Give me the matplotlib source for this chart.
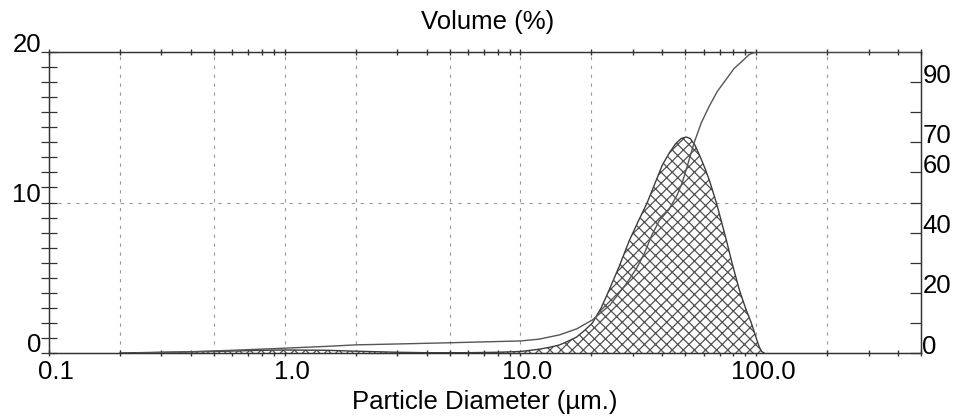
import matplotlib
matplotlib.use("Agg")
import matplotlib.pyplot as plt
from matplotlib.ticker import FixedLocator, LogLocator, NullFormatter
from matplotlib.transforms import ScaledTranslation

# volume distribution (differential)
size_um = [0.2, 0.3, 0.5, 0.8, 1.0, 1.5, 2.0, 3.0, 4.0, 6.0, 8.0, 10.0, 12.0,
           13.3, 14.6, 16.0, 17.3, 18.7, 20.2, 22.0, 23.8, 26.3, 29.0, 31.7,
           34.5, 37.7, 40.0, 42.8, 45.5, 48.0, 50.5, 52.5, 55.0, 58.0, 60.5,
           63.2, 67.7, 71.0, 74.7, 79.5, 84.8, 90.0, 95.3, 99.0, 103.0, 105.5, 108.0]
volume_pct = [0.0, 0.05, 0.1, 0.18, 0.2, 0.18, 0.12, 0.05, 0.02, 0.02, 0.05, 0.1, 0.25,
              0.38, 0.53, 0.8, 1.06, 1.5, 2.0, 3.0, 4.2, 5.8, 7.5, 8.8,
              10.0, 11.5, 12.5, 13.3, 13.9, 14.25, 14.35, 14.25, 13.8, 13.0, 12.3,
              11.5, 10.0, 8.8, 7.5, 5.8, 4.2, 3.0, 2.0, 1.2, 0.4, 0.1, 0.0]

# cumulative (undersize) curve, right axis
cum_size = [0.236, 0.36, 0.6, 1.0, 1.5, 2.0, 3.0, 5.0, 10.0, 12.0, 14.6, 17.3, 20.2,
            24.0, 28.1, 31.0, 33.5, 36.0, 38.8, 42.5, 46.2, 48.5, 50.5, 52.5, 54.6,
            58.5, 63.2, 68.5, 74.7, 80.5, 87.3, 93.5, 100.0, 500.0]
cum_pct = [0.0, 0.3, 0.9, 1.6, 2.2, 2.7, 3.0, 3.4, 4.0, 4.6, 6.0, 8.0, 11.0,
           16.0, 23.0, 28.0, 33.0, 39.0, 44.0, 47.5, 52.5, 56.5, 61.0, 65.5, 70.0,
           76.5, 82.0, 87.0, 91.0, 94.5, 97.0, 99.2, 100.0, 100.0]

grid_x = [0.2, 0.5, 1, 2, 5, 10, 20, 50, 100, 200]
x_major = [0.1, 1, 10, 100]
x_labels = ["0.1", "1.0", "10.0", "100.0"]
left_ticks = [0, 10, 20]
right_ticks = [0, 10, 20, 30, 40, 50, 60, 70, 80, 90]
right_labels = ["0", "", "20", "", "40", "", "60", "70", "", "90"]

plt.rcParams['font.family'] = ['Liberation Sans', 'DejaVu Sans']
plt.rcParams['hatch.color'] = '#505050'
plt.rcParams['hatch.linewidth'] = 0.9

fig = plt.figure(figsize=(9.57, 4.17), dpi=100)
ax = fig.add_axes([49/957, 64/417, 872/957, 301/417])
frame = '#333333'
fs = 18.5

ax.set_xscale('log')
ax.set_xlim(0.1, 500)
ax.set_ylim(0, 20)

for gx in grid_x:
    ax.axvline(gx, color='#9a9a9a', lw=0.8, ls=(0, (3, 5)), zorder=0)
ax.axhline(10, color='#9a9a9a', lw=0.8, ls=(0, (3, 5)), zorder=0)

ax.fill_between(size_um, volume_pct, 0, facecolor='white', edgecolor='#505050',
                hatch='xxx', lw=0.0, zorder=2)
ax.plot(size_um, volume_pct, color='#3c3c3c', lw=1.0, zorder=3)

for s in ax.spines.values():
    s.set_color(frame)
    s.set_linewidth(1.0)

ax.xaxis.set_major_locator(FixedLocator(x_major))
ax.set_xticklabels(x_labels)
ax.xaxis.set_minor_locator(LogLocator(base=10, subs=range(2, 10)))
ax.xaxis.set_minor_formatter(NullFormatter())
ax.tick_params(axis='x', which='both', direction='inout', length=4, width=1,
               color=frame, top=True, labelsize=fs, pad=3)

ax.set_yticks(left_ticks)
ax.yaxis.set_minor_locator(FixedLocator(range(0, 21)))
ax.tick_params(axis='y', which='both', direction='inout', length=11.5, width=0.9,
               color=frame, labelsize=fs, pad=0)

for lab in ax.get_xticklabels():
    lab.set_transform(lab.get_transform() + ScaledTranslation(0.07, 0, fig.dpi_scale_trans))
for lab in ax.get_yticklabels():
    lab.set_transform(lab.get_transform() + ScaledTranslation(0, 0.1, fig.dpi_scale_trans))

ax2 = ax.twinx()
ax2.set_ylim(0, 100)
ax2.plot(cum_size, cum_pct, color='#555555', lw=1.0, zorder=4)
ax2.set_yticks(right_ticks)
ax2.set_yticklabels(right_labels)
ax2.tick_params(axis='y', direction='in', length=8, width=0.9, color=frame,
                labelsize=fs, pad=1)
for lab in ax2.get_yticklabels():
    lab.set_transform(lab.get_transform() + ScaledTranslation(0, 0.09, fig.dpi_scale_trans))
for s in ax2.spines.values():
    s.set_color(frame)

fig.text(488/957, 1 - 22/417, "Volume (%)", ha='center', va='center', fontsize=fs)
fig.text(485/957, 1 - 402/417, "Particle Diameter (µm.)", ha='center', va='center',
         fontsize=fs)

fig.savefig("out.png", dpi=100)
